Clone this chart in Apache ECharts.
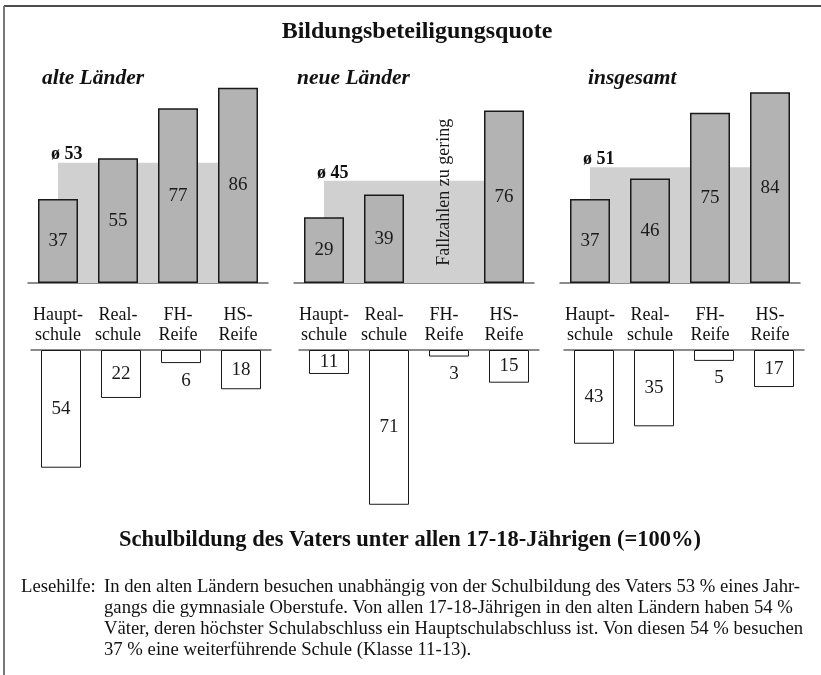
<!DOCTYPE html>
<html>
<head>
<meta charset="utf-8">
<script src="https://cdn.jsdelivr.net/npm/echarts@6/dist/echarts.min.js"></script>
<style>
  html, body { margin: 0; padding: 0; background: #fff; }
  #chart { width: 821px; height: 675px; }
</style>
</head>
<body>
<div id="chart"></div>
<script>
const categories = ['Haupt-\nschule', 'Real-\nschule', 'FH-\nReife', 'HS-\nReife']
const regions = ['alte Länder', 'neue Länder', 'insgesamt']

// Bildungsbeteiligungsquote (%)
const quoteAlt = [37, 55, 77, 86]
const quoteNeu = [29, 39, null, 76]
const quoteGesamt = [37, 46, 75, 84]
const avgQuote = [53, 45, 51]

// Schulbildung des Vaters (% of all 17-18 year olds)
const vaterAlt = [54, 22, 6, 18]
const vaterNeu = [11, 71, 3, 15]
const vaterGesamt = [43, 35, 5, 17]

const noteText = 'Fallzahlen zu gering'
const titleTop = 'Bildungsbeteiligungsquote'
const titleBottom = 'Schulbildung des Vaters unter allen 17-18-Jährigen (=100%)'
const helpLabel = 'Lesehilfe:'
const helpLines = [
  'In den alten Ländern besuchen unabhängig von der Schulbildung des Vaters 53 % eines Jahr-',
  'gangs die gymnasiale Oberstufe. Von allen 17-18-Jährigen in den alten Ländern haben 54 %',
  'Väter, deren höchster Schulabschluss ein Hauptschulabschluss ist. Von diesen 54 % besuchen',
  '37 % eine weiterführende Schule (Klasse 11-13).',
]

const quotes = [quoteAlt, quoteNeu, quoteGesamt]
const vaeter = [vaterAlt, vaterNeu, vaterGesamt]

const FONT = '"Liberation Serif", "Times New Roman", serif'
const upperLeft = [28, 294, 560]
const lowerLeft = [31, 299, 564]

const chart = echarts.init(document.getElementById('chart'))

const grids = []
const xAxes = []
const yAxes = []
const series = []

for (let i = 0; i < 3; i++) {
  // upper panel
  grids.push({ left: upperLeft[i], top: 56, width: 240, height: 227 })
  xAxes.push({
    type: 'category',
    gridIndex: 2 * i,
    data: categories,
    axisLine: { lineStyle: { color: '#666', width: 1.5 } },
    axisTick: { show: false },
    axisLabel: {
      interval: 0,
      margin: 22,
      fontSize: 18,
      lineHeight: 20,
      color: '#111',
      fontFamily: FONT,
    },
  })
  yAxes.push({ type: 'value', gridIndex: 2 * i, min: 0, max: 100, show: false })

  // lower panel
  grids.push({ left: lowerLeft[i], top: 350, width: 240, height: 218 })
  xAxes.push({
    type: 'category',
    gridIndex: 2 * i + 1,
    data: categories,
    position: 'top',
    axisLine: { onZero: false, lineStyle: { color: '#666', width: 1.5 } },
    axisTick: { show: false },
    axisLabel: { show: false },
  })
  yAxes.push({ type: 'value', gridIndex: 2 * i + 1, min: 0, max: 100, inverse: true, show: false })

  // average band
  series.push({
    type: 'custom',
    xAxisIndex: 2 * i,
    yAxisIndex: 2 * i,
    z: 1,
    data: [[0, 3, avgQuote[i]]],
    renderItem: function (params, api) {
      const p0 = api.coord([api.value(0), 0])
      const p1 = api.coord([api.value(1), api.value(2)])
      return {
        type: 'group',
        children: [
          {
            type: 'rect',
            shape: { x: p0[0], y: p1[1], width: p1[0] - p0[0], height: p0[1] - p1[1] },
            style: { fill: '#d0d0d0' },
          },
          {
            type: 'text',
            x: p0[0] - 7,
            y: p1[1] + 1,
            style: {
              text: 'ø ' + api.value(2),
              font: 'bold 18px ' + FONT,
              fill: '#111',
              align: 'left',
              verticalAlign: 'bottom',
            },
          },
        ],
      }
    },
  })

  series.push({
    type: 'bar',
    xAxisIndex: 2 * i,
    yAxisIndex: 2 * i,
    z: 2,
    barWidth: 40,
    data: quotes[i],
    itemStyle: { color: '#b3b3b3', borderColor: '#1a1a1a', borderWidth: 1.5 },
    label: {
      show: true,
      position: 'inside',
      fontSize: 19,
      color: '#1a1a1a',
      fontFamily: FONT,
    },
  })

  series.push({
    type: 'bar',
    xAxisIndex: 2 * i + 1,
    yAxisIndex: 2 * i + 1,
    barWidth: 40,
    data: vaeter[i].map((v) =>
      v < 10
        ? { value: v, label: { position: 'bottom', distance: 8, offset: [5, 0] } }
        : v
    ),
    itemStyle: { color: '#fff', borderColor: '#1a1a1a', borderWidth: 1 },
    label: {
      show: true,
      position: 'inside',
      fontSize: 19,
      color: '#1a1a1a',
      fontFamily: FONT,
    },
  })
}

// note where the case numbers were too small
series.push({
  type: 'custom',
  xAxisIndex: 2,
  yAxisIndex: 2,
  z: 3,
  data: [[2]],
  renderItem: function (params, api) {
    const p = api.coord([api.value(0), 0])
    const cs = params.coordSys
    return {
      type: 'text',
      x: p[0],
      y: cs.y + cs.height * 0.6,
      rotation: Math.PI / 2,
      style: {
        text: noteText,
        font: '18px ' + FONT,
        fill: '#1a1a1a',
        align: 'center',
        verticalAlign: 'middle',
      },
    }
  },
})

const graphics = [
  { type: 'line', shape: { x1: 4, y1: 6, x2: 821, y2: 6 }, style: { stroke: '#111', lineWidth: 1.5 } },
  { type: 'line', shape: { x1: 4, y1: 6, x2: 4, y2: 675 }, style: { stroke: '#777', lineWidth: 2 } },
  {
    type: 'text', x: 417, y: 32,
    style: { text: titleTop, font: 'bold 24px ' + FONT, fill: '#111', align: 'center', verticalAlign: 'middle' },
  },
  {
    type: 'text', x: 410, y: 540,
    style: { text: titleBottom, font: 'bold 22.5px ' + FONT, fill: '#111', align: 'center', verticalAlign: 'middle' },
  },
  {
    type: 'text', x: 21, y: 587,
    style: { text: helpLabel, font: '18.7px ' + FONT, fill: '#111', align: 'left', verticalAlign: 'middle' },
  },
]
const regionX = [42, 297, 588]
regions.forEach((r, i) => {
  graphics.push({
    type: 'text', x: regionX[i], y: 78,
    style: { text: r, font: 'italic bold 21.5px ' + FONT, fill: '#111', align: 'left', verticalAlign: 'middle' },
  })
})
helpLines.forEach((line, i) => {
  graphics.push({
    type: 'text', x: 104, y: 587 + 21 * i,
    style: { text: line, font: '18.7px ' + FONT, fill: '#111', align: 'left', verticalAlign: 'middle' },
  })
})

chart.setOption({
  animation: false,
  backgroundColor: '#fff',
  grid: grids,
  xAxis: xAxes,
  yAxis: yAxes,
  series: series,
  graphic: graphics,
})
</script>
</body>
</html>
